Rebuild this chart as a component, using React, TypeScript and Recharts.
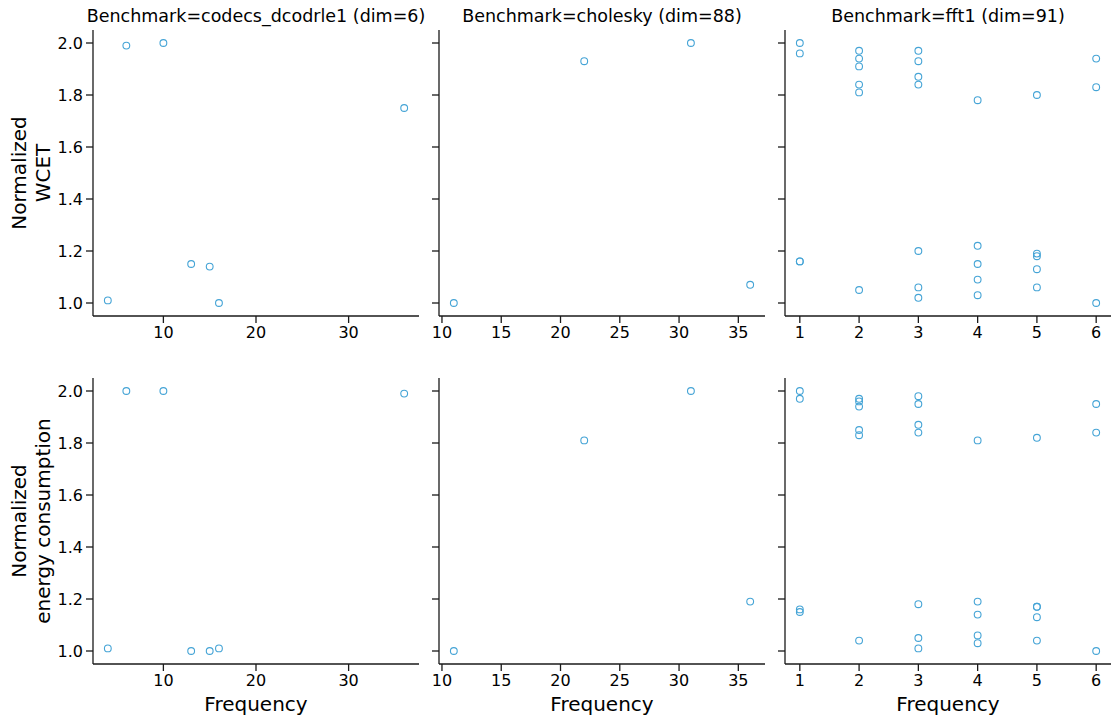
import { ScatterChart, Scatter, XAxis, YAxis } from 'recharts'

// codecs_dcodrle1 (dim=6)
const codecsFreq = [4, 6, 10, 13, 15, 16, 36]
const codecsWcet = [1.01, 1.99, 2.0, 1.15, 1.14, 1.0, 1.75]
const codecsEnergy = [1.01, 2.0, 2.0, 1.0, 1.0, 1.01, 1.99]

// cholesky (dim=88)
const choleskyFreq = [11, 22, 31, 36]
const choleskyWcet = [1.0, 1.93, 2.0, 1.07]
const choleskyEnergy = [1.0, 1.81, 2.0, 1.19]

// fft1 (dim=91)
const fftFreq = [
  1, 1, 1, 1,
  2, 2, 2, 2, 2, 2,
  3, 3, 3, 3, 3, 3, 3,
  4, 4, 4, 4, 4,
  5, 5, 5, 5, 5,
  6, 6, 6,
]
const fftWcet = [
  2.0, 1.96, 1.16, 1.16,
  1.97, 1.94, 1.91, 1.84, 1.81, 1.05,
  1.97, 1.93, 1.87, 1.84, 1.2, 1.06, 1.02,
  1.78, 1.22, 1.15, 1.09, 1.03,
  1.8, 1.19, 1.18, 1.13, 1.06,
  1.94, 1.83, 1.0,
]
const fftEnergy = [
  2.0, 1.97, 1.16, 1.15,
  1.97, 1.96, 1.94, 1.85, 1.83, 1.04,
  1.98, 1.95, 1.87, 1.84, 1.18, 1.05, 1.01,
  1.81, 1.19, 1.14, 1.06, 1.03,
  1.82, 1.17, 1.17, 1.13, 1.04,
  1.95, 1.84, 1.0,
]

const titles = [
  'Benchmark=codecs_dcodrle1 (dim=6)',
  'Benchmark=cholesky (dim=88)',
  'Benchmark=fft1 (dim=91)',
]
const yTicks = [1.0, 1.2, 1.4, 1.6, 1.8, 2.0]
const xTicksList = [
  [10, 20, 30],
  [10, 15, 20, 25, 30, 35],
  [1, 2, 3, 4, 5, 6],
]
const xDomains: [number, number][] = [
  [2.4, 37.6],
  [9.75, 37.25],
  [0.75, 6.25],
]

const COLOR = '#45a4d6'
const INK = '#1a1a1a'
const FONT = 'DejaVu Sans'

const plotLefts = [93, 439, 785]
const plotTops = [30, 378]
const PW = 326
const PH = 286

const toPoints = (xs: number[], ys: number[]) => xs.map((x, i) => ({ x, y: ys[i] }))

const panels = [
  [toPoints(codecsFreq, codecsWcet), toPoints(choleskyFreq, choleskyWcet), toPoints(fftFreq, fftWcet)],
  [toPoints(codecsFreq, codecsEnergy), toPoints(choleskyFreq, choleskyEnergy), toPoints(fftFreq, fftEnergy)],
]

const Ring = (props: any) => (
  <circle cx={props.cx} cy={props.cy} r={3.4} fill="none" stroke={COLOR} strokeWidth={1.1} />
)

function Panel({ data, col, row }: { data: { x: number; y: number }[]; col: number; row: number }) {
  const left = plotLefts[col] - 60
  const top = plotTops[row] - 10
  return (
    <div style={{ position: 'absolute', left, top, width: 386, height: 346 }}>
      <ScatterChart width={386} height={346} margin={{ top: 10, right: 0, bottom: 0, left: 0 }}>
        <XAxis
          type="number"
          dataKey="x"
          domain={xDomains[col]}
          ticks={xTicksList[col]}
          height={50}
          allowDataOverflow
          tickSize={7}
          tickMargin={4}
          stroke={INK}
          strokeWidth={1.3}
          tick={{ fill: '#000', fontSize: 16, fontFamily: FONT }}
        />
        <YAxis
          type="number"
          dataKey="y"
          domain={[0.95, 2.05]}
          ticks={yTicks}
          width={60}
          allowDataOverflow
          tickSize={7}
          tickMargin={3}
          stroke={INK}
          strokeWidth={1.3}
          tick={{ fill: '#000', fontSize: 16, fontFamily: FONT }}
          tickFormatter={(v: number) => (col === 0 ? v.toFixed(1) : '')}
        />
        <Scatter data={data} shape={Ring} isAnimationActive={false} />
      </ScatterChart>
    </div>
  )
}

export default function App() {
  return (
    <div style={{ position: 'absolute', left: 0, top: 0, width: 1111, height: 720, background: '#fff', overflow: 'hidden' }}>
      {panels.map((rowData, r) =>
        rowData.map((d, c) => <Panel key={`${r}-${c}`} data={d} col={c} row={r} />)
      )}
      <svg
        width={1111}
        height={720}
        style={{ position: 'absolute', left: 0, top: 0, pointerEvents: 'none' }}
        fontFamily={FONT}
        fill="#000"
      >
        {titles.map((t, c) => (
          <text key={t} x={plotLefts[c] + PW / 2} y={22} textAnchor="middle" fontSize={17.5}>
            {t}
          </text>
        ))}
        {plotLefts.map((l, c) => (
          <text key={`xl-${c}`} x={l + PW / 2} y={711} textAnchor="middle" fontSize={20}>
            Frequency
          </text>
        ))}
        <text transform={`translate(26, ${plotTops[0] + PH / 2}) rotate(-90)`} textAnchor="middle" fontSize={20}>
          <tspan x={0} y={0}>Normalized</tspan>
          <tspan x={0} y={24}>WCET</tspan>
        </text>
        <text transform={`translate(26, ${plotTops[1] + PH / 2}) rotate(-90)`} textAnchor="middle" fontSize={20}>
          <tspan x={0} y={0}>Normalized</tspan>
          <tspan x={0} y={24}>energy consumption</tspan>
        </text>
      </svg>
    </div>
  )
}
